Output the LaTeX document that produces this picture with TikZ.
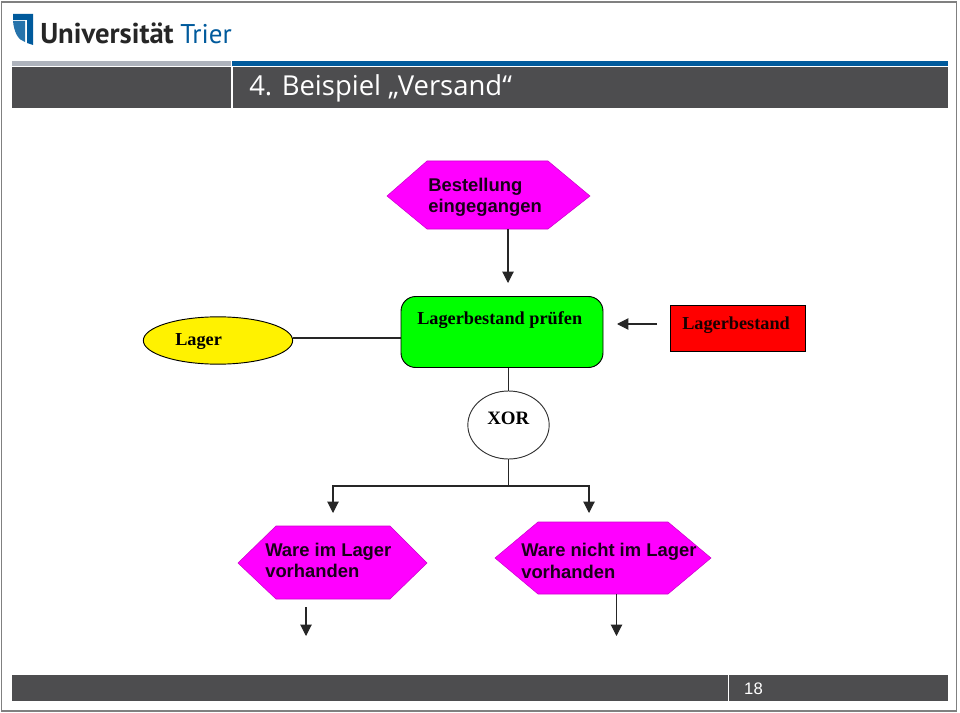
\documentclass[tikz,border=0pt]{standalone}
\usepackage{fontspec}
\setmainfont{Liberation Sans}
\newfontfamily\serifbold{Liberation Serif}
\newfontfamily\headfont{Open Sans}
\newfontfamily\logofont{PT Sans}
\usetikzlibrary{arrows.meta,shapes.geometric}
\definecolor{barDark}{HTML}{4D4D4F}
\definecolor{uniBlue}{HTML}{005A9C}
\definecolor{barGrey}{HTML}{AEB3BC}
\definecolor{frameGrey}{HTML}{808080}
\definecolor{hexMagenta}{HTML}{FF00FF}
\definecolor{inkText}{HTML}{1A001A}
\tikzset{
  x=0.75pt, y=-0.75pt,
  bar/.style={fill=barDark, draw=none},
  hexshape/.style={fill=hexMagenta, draw=hexMagenta!80!black, line width=0.4pt},
  hextext/.style={inner sep=0pt, anchor=base west, font=\fontsize{13.8}{16}\selectfont\bfseries, text=inkText},
  flow/.style={line width=0.8pt, draw=black!85},
  flowtip/.style={flow, -{Triangle[length=8.5pt,width=8.5pt]}},
  serifbolded/.style={inner sep=0pt, anchor=base west, font=\fontsize{13.7}{16}\serifbold\bfseries, text=black},
}
\begin{document}
\begin{tikzpicture}
\useasboundingbox (0,0) rectangle (960,713);
\fill[white] (0,0) rectangle (960,713);
\draw[frameGrey, line width=1.3pt] (1.5,2) -- (956.5,2) -- (956.5,711) -- (1.5,711) -- cycle;

% Logo mark and wordmark
\fill[uniBlue] (13,14) -- (33,14) -- (33,45) -- (27,43) -- (27,20) -- (13,20) -- cycle;
\fill[uniBlue!85] (13,21) -- (25,21) -- (25,42) .. controls (18,40) and (14,32) .. (13,21) -- cycle;
\node[inner sep=0pt, anchor=base west, font=\logofont\fontsize{21.5}{24}\selectfont\bfseries, text=black!85] (wordmark) at (40,44) {Universität};
\node[inner sep=0pt, anchor=base west, font=\logofont\fontsize{20.3}{24}\selectfont, text=uniBlue] (wordtrier) at (180,44) {Trier};

% Header and footer bands
\fill[barGrey] (12,61) rectangle (231,66);
\fill[uniBlue] (232,61) rectangle (947.5,66);
\fill[bar] (12,67.5) rectangle (231,108);
\fill[bar] (232.5,67.5) rectangle (947.5,108);
\node[inner sep=0pt, anchor=base west, font=\headfont\fontsize{20.6}{24}\selectfont, text=white] (title) at (249,96) {4. Beispiel „Versand“};
\fill[bar] (12,675) rectangle (727.5,701);
\fill[bar] (729,675) rectangle (947.5,701);
\node[inner sep=0pt, font=\fontsize{12.5}{15}\selectfont, text=white] (pagenum) at (753.5,689) {18};

% Event hexagons
\fill[hexshape] (387,196) -- (427,161) -- (548,161) -- (590,196) -- (548,229) -- (427,229) -- cycle;
\fill[hexshape] (238,563) -- (276,526) -- (390,526) -- (427,563) -- (390,599) -- (276,599) -- cycle;
\fill[hexshape] (495,558) -- (538,522) -- (668,522) -- (711,558) -- (668,594) -- (538,594) -- cycle;
\node[draw=none, inner sep=0pt, minimum width=151.5pt, minimum height=51pt] (ordered) at (488.5,195) {};
\node[draw=none, inner sep=0pt, minimum width=142pt, minimum height=54.75pt] (instock) at (332.5,562.5) {};
\node[draw=none, inner sep=0pt, minimum width=162pt, minimum height=54pt] (nostock) at (603,558) {};
\node[hextext] (orderedA) at (428,191.5) {Bestellung};
\node[hextext] (orderedB) at (428,213) {eingegangen};
\node[hextext] (instockA) at (265,556) {Ware im Lager};
\node[hextext] (instockB) at (265,577) {vorhanden};
\node[hextext] (nostockA) at (521,556) {Ware nicht im Lager};
\node[hextext] (nostockB) at (521,578) {vorhanden};

% Function, data and organisation shapes
\node[draw=black, fill=green, rounded corners=11pt, line width=0.7pt, inner sep=0pt, minimum width=151.5pt, minimum height=53.25pt] (check) at (502,332) {};
\node[serifbolded] (checkText) at (417,324.5) {Lagerbestand prüfen};
\node[draw=black, fill=yellow, ellipse, line width=0.7pt, inner sep=0pt, minimum width=112pt, minimum height=35.5pt] (store) at (218,340.5) {};
\node[serifbolded] (storeText) at (175,345) {Lager};
\node[draw=black, fill=red, line width=0.7pt, inner sep=0pt, minimum width=101pt, minimum height=34pt] (stock) at (738,328.5) {};
\node[serifbolded, text=black!90!red] (stockText) at (682,329) {Lagerbestand};
\node[draw=black!80, ellipse, fill=white, line width=0.7pt, inner sep=0pt, minimum width=61pt, minimum height=51pt] (xor) at (508.5,425) {};
\node[serifbolded, font=\fontsize{14.2}{16}\serifbold\bfseries] (xorText) at (487,424) {XOR};

% Connectors
\coordinate (checkIn) at (508,283);
\coordinate (stockStart) at (657,324);
\coordinate (stockEnd) at (617,324);
\coordinate (junction) at (508.5,486);
\coordinate (leftEnd) at (333,513);
\coordinate (rightEnd) at (589,513);
\coordinate (instockFrom) at (306,607);
\coordinate (instockEnd) at (306,636);
\coordinate (nostockEnd) at (616.5,636);
\draw[flowtip] (ordered.south -| checkIn) -- (checkIn);
\draw[flowtip] (stockStart) -- (stockEnd);
\draw[flow] (store.east |- 0,338) -- (check.west |- 0,338);
\draw[flow] (check.south -| xor) -- (xor.north);
\draw[flow] (xor.south) -- (junction);
\draw[flowtip] (junction) -| (leftEnd);
\draw[flowtip] (junction) -| (rightEnd);
\draw[flowtip] (instockFrom) -- (instockEnd);
\draw[flowtip] (nostock.south -| nostockEnd) -- (nostockEnd);
\end{tikzpicture}
\end{document}
